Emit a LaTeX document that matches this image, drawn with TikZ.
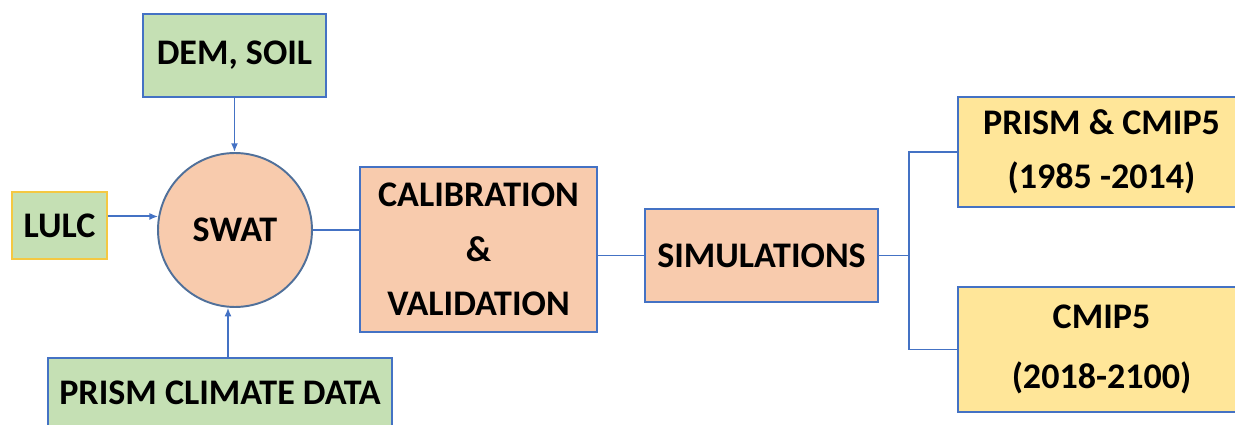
\documentclass[tikz,border=0pt]{standalone}
\usepackage{fontspec}
\setmainfont{Carlito}
\usetikzlibrary{arrows.meta,calc}
\definecolor{bl}{HTML}{4472C4}
\definecolor{gr}{HTML}{C5E0B4}
\definecolor{sal}{HTML}{F8CBAD}
\definecolor{yel}{HTML}{FFE699}
\definecolor{gold}{HTML}{F4C842}
\definecolor{circ}{HTML}{50709A}
\begin{document}
\begin{tikzpicture}[x=0.02cm,y=-0.02cm,
  box/.style={draw=bl,line width=1.1pt,inner sep=0pt,align=center,
    font=\fontsize{20.5}{31}\selectfont\bfseries},
  inbox/.style={box,fill=gr},
  procbox/.style={box,fill=sal},
  outbox/.style={box,fill=yel},
  link/.style={draw=bl,line width=1.1pt},
  arr/.style={link,-{Latex[length=5pt,width=4pt]}}]
\useasboundingbox (0,0) rectangle (1235,425);
\clip (0,0) rectangle (1235,425);
\node[inbox,minimum width=3.66cm,minimum height=1.66cm] (dem) at (234.5,55.5) {DEM, SOIL};
\node[inbox,draw=gold,minimum width=1.9cm,minimum height=1.34cm] (lulc) at (59.5,225.5) {LULC};
\node[box,circle,fill=sal,draw=circ,minimum size=3.08cm] (swat) at (235,230) {SWAT};
\node[inbox,minimum width=6.88cm,minimum height=1.4cm] (prism) at (220,393) {PRISM CLIMATE DATA};
\node[procbox,minimum width=4.74cm,minimum height=3.3cm] (cal) at (478.5,249.5) {CALIBRATION\\\&\\VALIDATION};
\node[procbox,minimum width=4.66cm,minimum height=1.86cm] (sim) at (761.5,255.5) {SIMULATIONS};
\node[outbox,minimum width=5.74cm,minimum height=2.2cm] (p5) at (1101.5,152) {PRISM \& CMIP5\\(1985 -2014)};
\node[outbox,minimum width=5.74cm,minimum height=2.5cm,font=\fontsize{20.5}{34}\selectfont\bfseries] (c5) at (1101.5,349.5) {CMIP5\\(2018-2100)};
\coordinate (j) at (909,255.5);
\draw[arr] (dem.south) -- (dem.south |- swat.north);
\draw[arr] (swat.170 -| lulc.east) -- (swat.170);
\draw[arr] (prism.north -| 228,0) -- ($(swat.south)+(-7,-0.3)$);
\draw[link] (swat.east) -- (swat.east -| cal.west);
\draw[link] (cal.east |- sim.west) -- (sim.west);
\draw[link] (sim.east) -- (j);
\draw[link] (p5.west) -| (j) |- (c5.west);
\end{tikzpicture}
\end{document}
